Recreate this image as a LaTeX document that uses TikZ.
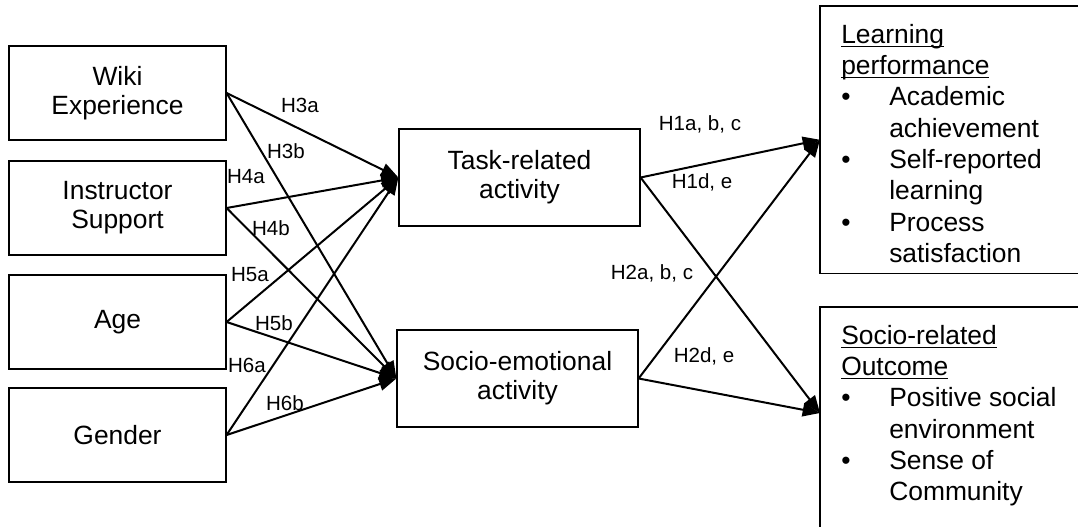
\documentclass[tikz,border=0pt]{standalone}
\usepackage{fontspec}
\setmainfont{Liberation Sans}
\usetikzlibrary{arrows.meta}
\newcommand\ulhead[1]{\leavevmode\setbox0=\hbox{#1}\rlap{\rule[-0.14em]{\wd0}{0.05em}}\box0}
\newcommand\outitem[2]{\leavevmode\makebox[36pt][l]{\textbullet}#1\\\hspace*{36pt}#2}

\begin{document}
\begin{tikzpicture}[x=0.75pt, y=-0.75pt,
  inbox/.style={draw, line width=0.9pt, minimum width=162.75pt,
                minimum height=70.5pt, align=center,
                font=\fontsize{19.8}{21.75}\selectfont},
  midbox/.style={inbox, minimum width=180.75pt, minimum height=72.75pt},
  outbox/.style={anchor=north west, inner sep=0pt,
                 font=\fontsize{19.8}{23.5}\selectfont},
  edge/.style={line width=0.9pt},
  hyp/.style={inner sep=0pt, font=\fontsize{15.4}{18}\selectfont},
  link/.style={-{Triangle[length=13pt,width=10pt]}, line width=1.5pt}
]
\useasboundingbox (0,0) rectangle (1078,527);
\clip (0,0) rectangle (1078,527);

% predictors
\node[inbox] (wiki)   at (117.5,93)  {Wiki\\Experience};
\node[inbox] (instr)  at (117.5,208) {Instructor\\Support};
\node[inbox] (age)    at (117.5,322) {Age};
\node[inbox] (gender) at (117.5,435) {Gender};

% activities
\node[midbox] (task)  at (519.5,177.5) {Task-related\\activity};
\node[midbox] (socio) at (517.5,378.5) {Socio-emotional\\activity};

% outcomes (cut off by the page edge)
\node[outbox] (learn) at (820,6) {\parbox[t][200.25pt][t]{250pt}{%
  \raggedright\leftskip=15.75pt\vspace*{11.3pt}%
  \strut\ulhead{Learning}\\
  \ulhead{performance}\\
  \outitem{Academic}{achievement}\\
  \outitem{Self-reported}{learning}\\
  \outitem{Process}{satisfaction}}};
\node[outbox] (social) at (820,307) {\parbox[t][190pt][t]{250pt}{%
  \raggedright\leftskip=15.75pt\vspace*{11.3pt}%
  \strut\ulhead{Socio-related}\\
  \ulhead{Outcome}\\
  \outitem{Positive social}{environment}\\
  \outitem{Sense of}{Community}}};
\draw[edge] (learn.north east) -- (learn.north west) -- (learn.south west) -- (learn.south east);
\draw[edge] (social.north east) -- (social.north west) -- (social.south west);
\coordinate (socin) at (820,413);

% paths
\draw[link] (wiki.east)   -- (task.west);
\draw[link] (wiki.east)   -- (socio.west);
\draw[link] (instr.east)  -- (task.west);
\draw[link] (instr.east)  -- (socio.west);
\draw[link] (age.east)    -- (task.west);
\draw[link] (age.east)    -- (socio.west);
\draw[link] (gender.east) -- (task.west);
\draw[link] (gender.east) -- (socio.west);
\draw[link] (task.east)   -- (learn.west);
\draw[link] (task.east)   -- (socin);
\draw[link] (socio.east)  -- (learn.west);
\draw[link] (socio.east)  -- (socin);

% hypotheses
\node[hyp] (h3a)   at (300,105) {H3a};
\node[hyp] (h3b)   at (286,151) {H3b};
\node[hyp] (h4a)   at (246,177) {H4a};
\node[hyp] (h4b)   at (271,228) {H4b};
\node[hyp] (h5a)   at (250,275) {H5a};
\node[hyp] (h5b)   at (274,323) {H5b};
\node[hyp] (h6a)   at (247,365) {H6a};
\node[hyp] (h6b)   at (285,403) {H6b};
\node[hyp] (h1abc) at (700,124) {H1a, b, c};
\node[hyp] (h1de)  at (702,182) {H1d, e};
\node[hyp] (h2abc) at (652,273) {H2a, b, c};
\node[hyp] (h2de)  at (704,356) {H2d, e};
\end{tikzpicture}
\end{document}
